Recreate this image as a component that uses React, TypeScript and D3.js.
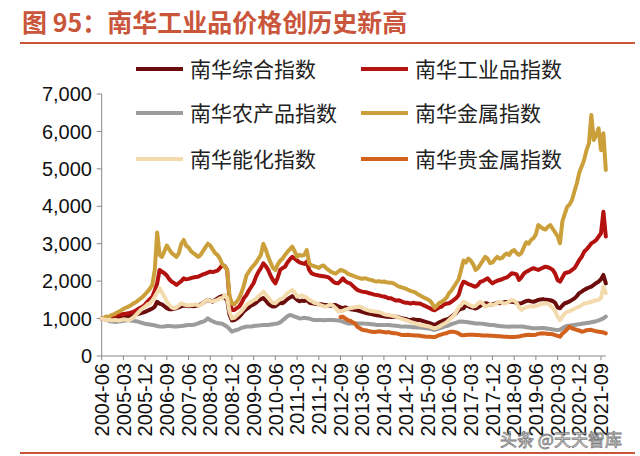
import React from 'react';
import * as d3 from 'd3';

// Monthly values, first point = 2004-06
const composite = [
  1000, 990, 1000, 1010, 1020, 1030, 1020, 1030, 1040, 1050, 1050, 1060,
  1070, 1080, 1100, 1120, 1140, 1160, 1180, 1210, 1240, 1270, 1320, 1450,
  1400, 1380, 1330, 1280, 1250, 1250, 1260, 1280, 1300, 1330, 1350, 1340,
  1330, 1340, 1330, 1340, 1350, 1380, 1420, 1460, 1500, 1480, 1450, 1500,
  1540, 1580, 1600, 1550, 1500, 1100, 950, 960, 1000, 1050, 1120, 1200,
  1250, 1300, 1350, 1380, 1420, 1480, 1520, 1550, 1480, 1400, 1350, 1320,
  1330, 1380, 1420, 1410, 1460, 1520, 1560, 1600, 1560, 1500, 1460, 1480,
  1470, 1500, 1430, 1410, 1400, 1390, 1380, 1380, 1370, 1365, 1350, 1340,
  1360, 1360, 1330, 1300, 1280, 1300, 1270, 1250, 1240, 1230, 1220, 1200,
  1180, 1160, 1140, 1130, 1120, 1100, 1090, 1080, 1070, 1060, 1050, 1050,
  1040, 1050, 1050, 1040, 1020, 1000, 990, 970, 960, 980, 970, 960,
  960, 940, 920, 900, 880, 850, 830, 860, 900, 930, 960, 980,
  1000, 1050, 1100, 1150, 1230, 1260, 1275, 1365, 1330, 1300, 1290, 1270,
  1300, 1340, 1380, 1410, 1400, 1360, 1380, 1400, 1420, 1410, 1420, 1440,
  1440, 1450, 1450, 1440, 1420, 1400, 1410, 1440, 1470, 1480, 1460, 1450,
  1470, 1500, 1510, 1520, 1500, 1500, 1490, 1470, 1420, 1300, 1275, 1350,
  1410, 1430, 1460, 1500, 1540, 1600, 1680, 1720, 1765, 1800, 1830, 1855,
  1900, 1950, 1985, 2050, 2165, 1940,
];

const industrial = [
  1000, 1010, 1040, 1030, 1050, 1060, 1080, 1100, 1110, 1120, 1130, 1140,
  1160, 1180, 1210, 1250, 1290, 1320, 1380, 1450, 1520, 1585, 1750, 1940,
  2300, 2250, 2210, 2150, 2050, 1985, 1950, 1900, 1950, 2000, 2075, 2050,
  2060, 2080, 2100, 2110, 2120, 2150, 2180, 2200, 2230, 2255, 2240, 2260,
  2280, 2350, 2430, 2400, 2300, 1500, 1230, 1230, 1280, 1320, 1420, 1550,
  1630, 1750, 1850, 1950, 2120, 2250, 2350, 2475, 2400, 2300, 2150, 2030,
  1940, 2100, 2300, 2350, 2385, 2500, 2580, 2650, 2600, 2550, 2500, 2480,
  2460, 2520, 2300, 2210, 2180, 2165, 2150, 2140, 2130, 2120, 2100, 2050,
  1985, 1950, 1940, 2000, 2075, 2000, 1960, 1940, 1880, 1820, 1765, 1740,
  1720, 1710, 1700, 1675, 1660, 1640, 1630, 1620, 1600, 1590, 1570, 1540,
  1540, 1510, 1480, 1490, 1470, 1440, 1420, 1420, 1400, 1420, 1410, 1400,
  1400, 1370, 1340, 1310, 1280, 1240, 1220, 1260, 1300, 1320, 1380, 1400,
  1410, 1450, 1500, 1550, 1630, 1850, 1985, 1960, 1920, 1900, 1870, 1850,
  1900, 1985, 2000, 2040, 2075, 2000, 1940, 1980, 2010, 2030, 2050, 2080,
  2100, 2150, 2210, 2200, 2180, 2030, 2100, 2200, 2250, 2280, 2320, 2345,
  2320, 2300, 2330, 2360, 2385, 2370, 2340, 2300, 2200, 2030, 1985, 2100,
  2210, 2230, 2250, 2300, 2345, 2450, 2565, 2650, 2785, 2850, 2920, 3010,
  3050, 3100, 3190, 3280, 3855, 3190,
];

const agri = [
  1000, 980, 960, 940, 920, 915, 910, 920, 930, 940, 950, 960,
  950, 940, 930, 920, 900, 880, 860, 850, 840, 830, 820, 800,
  790, 785, 790, 800, 800, 795, 790, 790, 795, 800, 810, 820,
  830, 830, 835, 850, 870, 900, 915, 950, 1005, 960, 930, 900,
  880, 870, 860, 820, 785, 720, 650, 680, 695, 720, 750, 770,
  785, 785, 790, 800, 810, 815, 820, 830, 830, 830, 840, 850,
  860, 870, 900, 950, 1005, 1060, 1095, 1080, 1050, 1030, 1005, 1010,
  1020, 1010, 1000, 980, 960, 960, 960, 960, 955, 960, 965, 960,
  960, 955, 950, 940, 920, 890, 870, 870, 870, 865, 870, 870,
  870, 865, 860, 855, 850, 840, 830, 830, 830, 825, 830, 830,
  820, 815, 810, 800, 790, 785, 785, 780, 780, 770, 765, 760,
  760, 755, 750, 740, 730, 710, 695, 720, 740, 760, 785, 800,
  820, 850, 870, 890, 915, 920, 915, 910, 900, 890, 880, 870,
  870, 865, 860, 850, 840, 830, 830, 820, 810, 800, 795, 790,
  785, 780, 785, 790, 790, 785, 785, 780, 770, 760, 750, 740,
  740, 740, 745, 750, 740, 730, 720, 710, 700, 695, 700, 740,
  785, 800, 810, 820, 830, 840, 850, 860, 870, 880, 890, 900,
  915, 930, 950, 980, 1005, 1050,
];

const metals = [
  1000, 1020, 1060, 1040, 1090, 1110, 1150, 1180, 1220, 1260, 1290, 1320,
  1350, 1400, 1430, 1480, 1530, 1580, 1650, 1720, 1800, 1900, 2300, 3300,
  2700, 2650, 2800, 2950, 2850, 2750, 2700, 2650, 2750, 3000, 3100, 2950,
  2900, 2800, 2750, 2700, 2650, 2700, 2800, 2900, 3000, 2950, 2850, 2750,
  2700, 2600, 2450, 2400, 2300, 1600, 1400, 1380, 1450, 1550, 1700, 1900,
  2150, 2250, 2350, 2420, 2500, 2600, 2700, 3000, 2850, 2650, 2500, 2350,
  2300, 2450, 2550, 2600, 2700, 2780, 2850, 2920, 2800, 2650, 2700, 2680,
  2700, 2830, 2480, 2420, 2400, 2380, 2350, 2400, 2420, 2350, 2300, 2250,
  2220, 2200, 2250, 2300, 2280, 2250, 2200, 2170, 2150, 2120, 2100, 2080,
  2060, 2080, 2060, 2040, 2030, 2000, 1990, 2000, 1980, 1990, 1970, 1960,
  1960, 1940, 1900, 1860, 1840, 1820, 1800, 1770, 1740, 1720, 1700, 1650,
  1620, 1580, 1550, 1520, 1480, 1400, 1290, 1350, 1420, 1450, 1500, 1560,
  1680, 1750, 1850, 1950, 2050, 2300, 2550, 2500, 2600, 2550, 2450, 2300,
  2350, 2450, 2550, 2650, 2600, 2480, 2500, 2580, 2650, 2600, 2620, 2700,
  2740, 2700, 2800, 2830, 2750, 2700, 2750, 2900, 3040, 3000, 3100, 3150,
  3250, 3500, 3450, 3400, 3380, 3450, 3500, 3400, 3300, 3200, 3010, 3600,
  3800, 3990, 4050, 4170, 4400, 4615, 4900, 5060, 5240, 5500, 5680, 6440,
  5770, 5900, 6080, 5500, 5950, 4970,
];

const energyChem = [
  1000, 980, 960, 970, 950, 960, 960, 950, 960, 980, 970, 960,
  980, 1020, 1080, 1150, 1220, 1275, 1320, 1380, 1410, 1480, 1585, 1700,
  1810, 1700, 1585, 1450, 1365, 1300, 1275, 1300, 1350, 1410, 1380, 1360,
  1350, 1360, 1365, 1380, 1350, 1360, 1420, 1460, 1500, 1470, 1460, 1480,
  1500, 1540, 1540, 1630, 1550, 1185, 1005, 1020, 1080, 1140, 1200, 1280,
  1365, 1410, 1450, 1500, 1520, 1600, 1650, 1720, 1650, 1560, 1480, 1420,
  1410, 1470, 1520, 1540, 1600, 1680, 1720, 1765, 1700, 1585, 1600, 1620,
  1590, 1560, 1500, 1470, 1430, 1410, 1380, 1350, 1330, 1320, 1350, 1380,
  1340, 1280, 1200, 1185, 1210, 1240, 1260, 1275, 1290, 1300, 1310, 1320,
  1300, 1250, 1230, 1210, 1200, 1190, 1185, 1170, 1150, 1120, 1100, 1095,
  1080, 1070, 1050, 1030, 1000, 980, 960, 940, 910, 890, 870, 850,
  830, 820, 810, 800, 785, 760, 740, 760, 790, 830, 860, 900,
  960, 1020, 1080, 1180, 1300, 1360, 1450, 1420, 1380, 1350, 1320, 1340,
  1400, 1450, 1400, 1320, 1340, 1380, 1360, 1380, 1420, 1450, 1420, 1400,
  1420, 1460, 1500, 1480, 1420, 1300, 1230, 1280, 1300, 1320, 1330, 1320,
  1340, 1360, 1380, 1400, 1410, 1400, 1350, 1275, 1200, 1050, 960, 1050,
  1140, 1180, 1200, 1230, 1260, 1300, 1320, 1360, 1400, 1410, 1430, 1450,
  1470, 1490, 1500, 1550, 1850, 1680,
];

// Precious metals index starts 2012-09 (month 99)
const preciousStart = 99;
const precious = [
  1040, 1050, 1000, 960, 940, 900, 870, 780, 740,
  700, 690, 680, 660, 650, 640, 650, 660, 650, 640, 630, 640,
  620, 610, 605, 590, 570, 560, 560, 570, 560, 555, 550, 545,
  540, 530, 520, 515, 515, 510, 505, 530, 560, 580, 600, 610,
  640, 650, 645, 630, 600, 560, 555, 560, 565, 570, 565, 560,
  560, 555, 550, 545, 545, 540, 540, 535, 530, 525, 520, 515,
  515, 510, 510, 510, 515, 520, 540, 550, 560, 565, 560, 560,
  570, 590, 605, 600, 600, 590, 590, 580, 560, 540, 515, 600,
  650, 720, 785, 740, 720, 695, 680, 650, 660, 690, 695, 700,
  680, 660, 650, 640, 630, 605,
];

const xTickLabels = [
  '2004-06', '2005-03', '2005-12', '2006-09', '2007-06', '2008-03', '2008-12', '2009-09',
  '2010-06', '2011-03', '2011-12', '2012-09', '2013-06', '2014-03', '2014-12', '2015-09',
  '2016-06', '2017-03', '2017-12', '2018-09', '2019-06', '2020-03', '2020-12', '2021-09',
];
const yTicks = [0, 1000, 2000, 3000, 4000, 5000, 6000, 7000];

const seriesNames = ['南华综合指数', '南华工业品指数', '南华农产品指数', '南华金属指数', '南华能化指数', '南华贵金属指数'];
const seriesColors = ['#6B0D0D', '#B3120F', '#9C9C9C', '#CBA03A', '#F3DBAE', '#D2611E'];
const seriesValues = [composite, industrial, agri, metals, energyChem, precious];
const seriesStarts = [0, 0, 0, 0, 0, preciousStart];

export default function App() {
  const x = d3.scaleLinear().domain([0, 207]).range([101.7, 601]);
  const y = d3.scaleLinear().domain([0, 7000]).range([356, 94]);
  const lastMonth = composite.length - 1;

  const paths = seriesValues.map((vals, si) => {
    const line = d3
      .line<number>()
      .x((_, i) => x(i + seriesStarts[si]))
      .y((d) => y(d));
    return line(vals) || '';
  });

  const legendPos = [
    [136, 69], [361, 69],
    [136, 113], [361, 113],
    [136, 159], [361, 159],
  ];

  const font = 'Liberation Sans, Arial, sans-serif';
  const cjk = '"Noto Sans CJK SC", sans-serif';

  return (
    <svg width={640} height={456} style={{ position: 'absolute', left: 0, top: 0, background: '#fff' }}>
      <rect x={0} y={0} width={640} height={456} fill="#fff" />
      {/* title */}
      <text x={22} y={32} fontFamily={cjk} fontWeight={700} fontSize={25} fill="#C9553B">
        图 95：南华工业品价格创历史新高
      </text>
      <line x1={20} x2={635} y1={43} y2={43} stroke="#C9553B" strokeWidth={2} />

      {/* legend */}
      {seriesNames.map((n, i) => (
        <g key={n}>
          <line
            x1={legendPos[i][0]}
            x2={legendPos[i][0] + 47}
            y1={legendPos[i][1]}
            y2={legendPos[i][1]}
            stroke={seriesColors[i]}
            strokeWidth={4}
          />
          <text
            x={legendPos[i][0] + 54}
            y={legendPos[i][1]}
            dy="0.36em"
            fontFamily={cjk}
            fontSize={21}
            fill="#222"
          >
            {n}
          </text>
        </g>
      ))}

      {/* y axis */}
      <line x1={x(0)} x2={x(0)} y1={y(7000)} y2={y(0)} stroke="#888" strokeWidth={1} />
      {yTicks.map((t) => (
        <g key={t}>
          <line x1={x(0) - 5} x2={x(0)} y1={y(t)} y2={y(t)} stroke="#888" />
          <text x={92} y={y(t)} dy="0.36em" textAnchor="end" fontFamily={font} fontSize={20} fill="#111">
            {d3.format(',')(t)}
          </text>
        </g>
      ))}

      {/* x axis */}
      <line x1={x(0)} x2={x(lastMonth)} y1={y(0)} y2={y(0)} stroke="#888" strokeWidth={1} />
      {xTickLabels.map((lab, i) => {
        const xp = x(i * 9);
        return (
          <g key={lab}>
            <line x1={xp} x2={xp} y1={y(0)} y2={y(0) + 4} stroke="#888" />
            <text
              transform={`translate(${xp},${y(0) + 7}) rotate(-90)`}
              dy="0.36em"
              textAnchor="end"
              fontFamily={font}
              fontSize={20}
              fill="#111"
            >
              {lab}
            </text>
          </g>
        );
      })}

      {/* series */}
      {paths.map((d, i) => (
        <path
          key={i}
          d={d}
          fill="none"
          stroke={seriesColors[i]}
          strokeWidth={4}
          strokeLinejoin="round"
          strokeLinecap="round"
        />
      ))}

      {/* watermark */}
      <text x={500} y={446} fontFamily={cjk} fontSize={17} fill="#fff" stroke="#666" strokeWidth={0.8} opacity={0.85}>
        头条 @天天智库
      </text>

      {/* bottom rule */}
      <line x1={20} x2={635} y1={453} y2={453} stroke="#C9553B" strokeWidth={2} />
    </svg>
  );
}
